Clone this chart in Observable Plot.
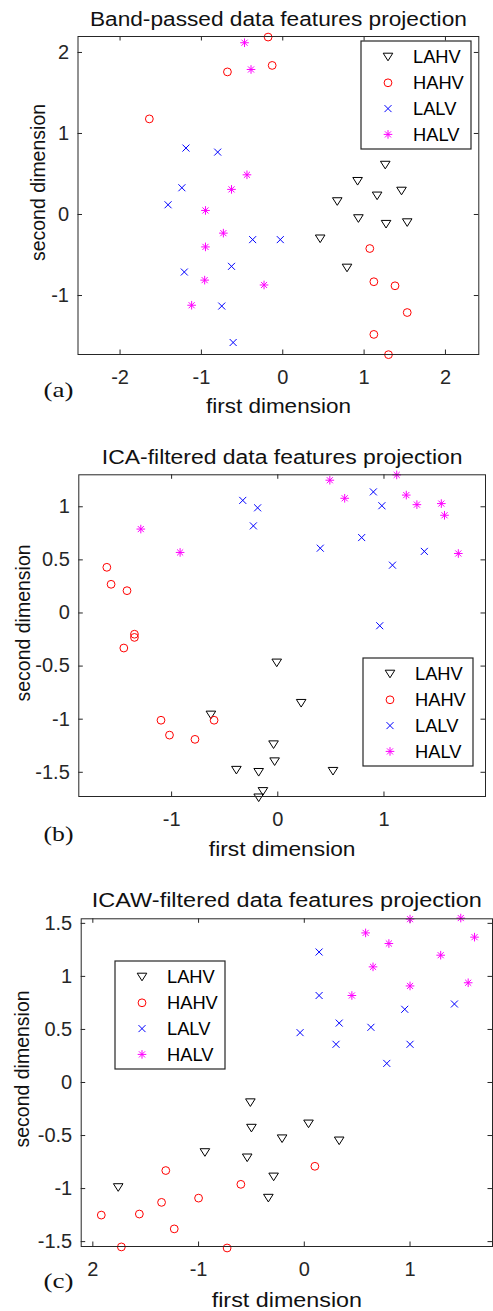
<!DOCTYPE html>
<html><head><meta charset="utf-8">
<script src="https://cdn.jsdelivr.net/npm/d3@7"></script>
<script src="https://cdn.jsdelivr.net/npm/@observablehq/plot@0.6"></script>
<style>
html,body{margin:0;padding:0;background:#fff;}
#wrap{position:relative;width:493px;height:1311px;overflow:hidden;background:#fff;}
#wrap > svg{display:block;}
</style></head><body><div id="wrap"></div>
<script>
const classes = ["LAHV","HAHV","LALV","HALV"];
const classColors = ["#000000","#ff0000","#0000ff","#ff00ff"];

// Panel (a): band-passed
const bandLAHV = [[1.26,0.61],[0.92,0.41],[1.16,0.23],[1.46,0.29],[0.67,0.16],[0.93,-0.05],[1.27,-0.12],[1.53,-0.10],[0.46,-0.30],[0.79,-0.66]];
const bandHAHV = [[-0.18,2.19],[-0.68,1.76],[-0.13,1.84],[-1.64,1.18],[1.07,-0.42],[1.12,-0.83],[1.38,-0.88],[1.53,-1.21],[1.12,-1.48],[1.30,-1.73]];
const bandLALV = [[-1.19,0.82],[-0.80,0.77],[-1.24,0.33],[-1.41,0.12],[-0.37,-0.31],[-0.03,-0.31],[-1.21,-0.71],[-0.63,-0.64],[-0.75,-1.13],[-0.61,-1.58]];
const bandHALV = [[-0.47,2.12],[-0.39,1.79],[-0.44,0.49],[-0.63,0.31],[-0.95,0.05],[-0.73,-0.23],[-0.95,-0.40],[-0.96,-0.81],[-0.23,-0.87],[-1.12,-1.12]];

// Panel (b): ICA-filtered
const icaLAHV = [[-0.01,-0.47],[0.22,-0.85],[-0.63,-0.96],[-0.04,-1.24],[-0.03,-1.40],[-0.39,-1.48],[-0.18,-1.50],[0.52,-1.49],[-0.14,-1.68],[-0.18,-1.74]];
const icaHAHV = [[-1.61,0.43],[-1.57,0.27],[-1.42,0.21],[-1.35,-0.20],[-1.35,-0.23],[-1.45,-0.33],[-1.10,-1.01],[-0.60,-1.01],[-1.02,-1.15],[-0.78,-1.19]];
const icaLALV = [[-0.33,1.06],[-0.19,0.99],[-0.23,0.82],[0.40,0.61],[0.90,1.14],[0.98,1.01],[0.79,0.71],[1.08,0.45],[1.38,0.58],[0.96,-0.12]];
const icaHALV = [[-1.29,0.79],[-0.92,0.57],[0.49,1.25],[0.63,1.08],[1.12,1.30],[1.21,1.11],[1.31,1.02],[1.54,1.03],[1.57,0.92],[1.70,0.56]];

// Panel (c): ICAW-filtered
const icawLAHV = [[-0.51,-0.19],[-0.50,-0.43],[0.04,-0.39],[-0.21,-0.53],[0.33,-0.55],[-0.94,-0.66],[-0.54,-0.71],[-0.29,-0.89],[-0.34,-1.09],[-1.76,-0.99]];
const icawHAHV = [[0.10,-0.79],[-0.60,-0.96],[-1.31,-0.83],[-1.00,-1.09],[-1.35,-1.13],[-1.56,-1.24],[-1.92,-1.25],[-1.23,-1.38],[-1.73,-1.55],[-0.73,-1.56]];
const icawLALV = [[0.14,1.23],[0.14,0.82],[-0.04,0.47],[0.33,0.56],[0.30,0.36],[0.63,0.52],[0.78,0.18],[0.95,0.69],[1.00,0.36],[1.42,0.74]];
const icawHALV = [[0.58,1.41],[0.80,1.31],[0.65,1.09],[0.45,0.82],[1.00,1.54],[1.48,1.55],[1.61,1.37],[1.29,1.20],[1.00,0.91],[1.55,0.94]];

// ticks
const xTicksA = [-2,-1,0,1,2], xTickLabelsA = ["-2","-1","0","1","2"];
const yTicksA = [-1,0,1,2];
const xTicksB = [-1,0,1], xTickLabelsB = ["-1","0","1"];
const yTicksB = [-1.5,-1,-0.5,0,0.5,1];
const xTicksC = [-2,-1,0,1], xTickLabelsC = ["2","-1","0","1"];
const yTicksC = [-1.5,-1,-0.5,0,0.5,1,1.5];

const titles = ["Band-passed data features projection","ICA-filtered data features projection","ICAW-filtered data features projection"];
const panelLetters = ["(a)","(b)","(c)"];
const xLabel = "first dimension", yLabel = "second dimension";

// MATLAB-like marker symbols
const triDown = {draw(ctx, size){const r=Math.sqrt(size/Math.PI); const w=1.2*r, h=0.95*r; ctx.moveTo(-w,-h); ctx.lineTo(w,-h); ctx.lineTo(0,h); ctx.closePath();}};
const ringSym = {draw(ctx, size){const r=Math.sqrt(size/Math.PI); ctx.moveTo(r,0); ctx.arc(0,0,r,0,2*Math.PI);}};
const timesSym = {draw(ctx, size){const r=Math.sqrt(size/Math.PI); ctx.moveTo(-r,-r); ctx.lineTo(r,r); ctx.moveTo(-r,r); ctx.lineTo(r,-r);}};
const starSym = {draw(ctx, size){const r=Math.sqrt(size/Math.PI), a=r*Math.SQRT1_2; ctx.moveTo(0,-r); ctx.lineTo(0,r); ctx.moveTo(-r,0); ctx.lineTo(r,0); ctx.moveTo(-a,-a); ctx.lineTo(a,a); ctx.moveTo(-a,a); ctx.lineTo(a,-a);}};
const classSymbols = [triDown, ringSym, timesSym, starSym];
const classR = [4, 3.9, 3.5, 4.3];

const ink = "#262626";
const wrap = document.getElementById("wrap");
const centered = {textAnchor: "middle", lineAnchor: "middle"};

function panel(cfg){
  const W = 493, H = cfg.height;
  const fw = W - cfg.ml - cfg.mr, fh = H - cfg.mt - cfg.mb, tl = 4.5;
  const dots = cfg.series.map((s, i) => Plot.dot(s, {x: d => d[0], y: d => d[1], symbol: classSymbols[i], r: classR[i], fill: "none", stroke: classColors[i], strokeWidth: 1}));
  const svg = Plot.plot({
    width: W, height: H,
    marginTop: cfg.mt, marginBottom: cfg.mb, marginLeft: cfg.ml, marginRight: cfg.mr,
    style: {fontFamily: "'Liberation Sans', Arial, sans-serif", fontSize: "20px", color: ink, background: "#fff", overflow: "visible"},
    x: {domain: cfg.xdom},
    y: {domain: cfg.ydom},
    marks: [
      Plot.tickX(cfg.xticks, {x: d => d, insetTop: fh - tl, stroke: ink}),
      Plot.tickX(cfg.xticks, {x: d => d, insetBottom: fh - tl, stroke: ink}),
      Plot.tickY(cfg.yticks, {y: d => d, insetRight: fw - tl, stroke: ink}),
      Plot.tickY(cfg.yticks, {y: d => d, insetLeft: fw - tl, stroke: ink}),
      Plot.axisX({ticks: cfg.xticks, tickFormat: d => cfg.xlabels[cfg.xticks.indexOf(d)], tickSize: 0, tickPadding: 15, fontSize: 20, label: null}),
      Plot.axisY({ticks: cfg.yticks, tickFormat: d => String(d), tickSize: 0, tickPadding: 9, fontSize: 20, label: null}),
      ...dots,
      Plot.frame({stroke: ink, strokeWidth: 1}),
      Plot.text([cfg.title], {text: d => d, frameAnchor: "top", ...centered, dy: cfg.titleDy, fontSize: 20, fill: "#111"}),
      Plot.text([xLabel], {text: d => d, frameAnchor: "bottom", ...centered, dy: cfg.xlDy, fontSize: 20, fill: "#111"}),
      Plot.text([yLabel], {text: d => d, frameAnchor: "left", ...centered, rotate: -90, dx: cfg.ylDx, dy: cfg.ylDy, fontSize: 19.5, fill: "#111"}),
      Plot.text([cfg.letter], {text: d => d, frameAnchor: "bottom-left", ...centered, dx: cfg.lDx, dy: cfg.lDy, fontSize: 22, fontFamily: "'Liberation Serif', 'Times New Roman', serif", fill: "#111"})
    ]
  });
  d3.select(svg).selectAll("text").each(function(){
    const t = this.textContent, s = d3.select(this);
    if (t === cfg.title) s.attr("textLength", cfg.titleW).attr("lengthAdjust", "spacingAndGlyphs");
    if (t === xLabel) s.attr("textLength", cfg.xlW).attr("lengthAdjust", "spacingAndGlyphs");
    if (t === cfg.letter) s.attr("textLength", 30).attr("lengthAdjust", "spacingAndGlyphs");
  });
  wrap.appendChild(svg);
}

function legend(left, top){
  const w = 110, h = 108;
  const svg = d3.select(wrap).append("svg").attr("width", w + 2).attr("height", h + 2)
    .style("position", "absolute").style("left", (left - 1) + "px").style("top", (top - 1) + "px");
  svg.append("rect").attr("x", 1).attr("y", 1).attr("width", w).attr("height", h)
    .attr("fill", "#fff").attr("stroke", ink).attr("stroke-width", 1.2);
  classes.forEach((c, i) => {
    const cy = 1 + 16 + i * 25.8;
    svg.append("path").attr("transform", `translate(${1 + 27},${cy})`)
      .attr("d", d3.symbol(classSymbols[i], classR[i] * classR[i] * Math.PI)())
      .attr("fill", "none").attr("stroke", classColors[i]).attr("stroke-width", 1);
    svg.append("text").attr("x", 1 + 52).attr("y", cy).attr("dy", "0.35em")
      .attr("font-family", "'Liberation Sans', Arial, sans-serif").attr("font-size", 18.3).attr("fill", "#000").text(c);
  });
}

panel({height: 440, mt: 36, mb: 86, ml: 77.5, mr: 14.7, xdom: [-2.517, 2.41], ydom: [-1.728, 2.197],
  xticks: xTicksA, xlabels: xTickLabelsA, yticks: yTicksA, series: [bandLAHV, bandHAHV, bandLALV, bandHALV],
  title: titles[0], letter: panelLetters[0], titleDy: -16.7, titleW: 377, xlDy: 52.3, xlW: 145, ylDx: -39.2, ylDy: -13, lDx: -19.5, lDy: 35.5});
panel({height: 440, mt: 34.3, mb: 84, ml: 78.3, mr: 8, xdom: [-1.874, 1.956], ydom: [-1.728, 1.301],
  xticks: xTicksB, xlabels: xTickLabelsB, yticks: yTicksB, series: [icaLAHV, icaHAHV, icaLALV, icaHALV],
  title: titles[1], letter: panelLetters[1], titleDy: -17.4, titleW: 360.7, xlDy: 52.6, xlW: 146.7, ylDx: -55.3, ylDy: -12.7, lDx: -20.3, lDy: 37});
panel({height: 431, mt: 38.3, mb: 65, ml: 80.7, mr: 1, xdom: [-2.11, 1.78], ydom: [-1.546, 1.543],
  xticks: xTicksC, xlabels: xTickLabelsC, yticks: yTicksC, series: [icawLAHV, icawHAHV, icawLALV, icawHALV],
  title: titles[2], letter: panelLetters[2], titleDy: -18, titleW: 390, xlDy: 53.6, xlW: 150.3, ylDx: -58, ylDy: -13.7, lDx: -22.7, lDy: 34});

legend(360.7, 40.7);
legend(362.7, 658.3);
legend(115, 960.7);
</script></body></html>
